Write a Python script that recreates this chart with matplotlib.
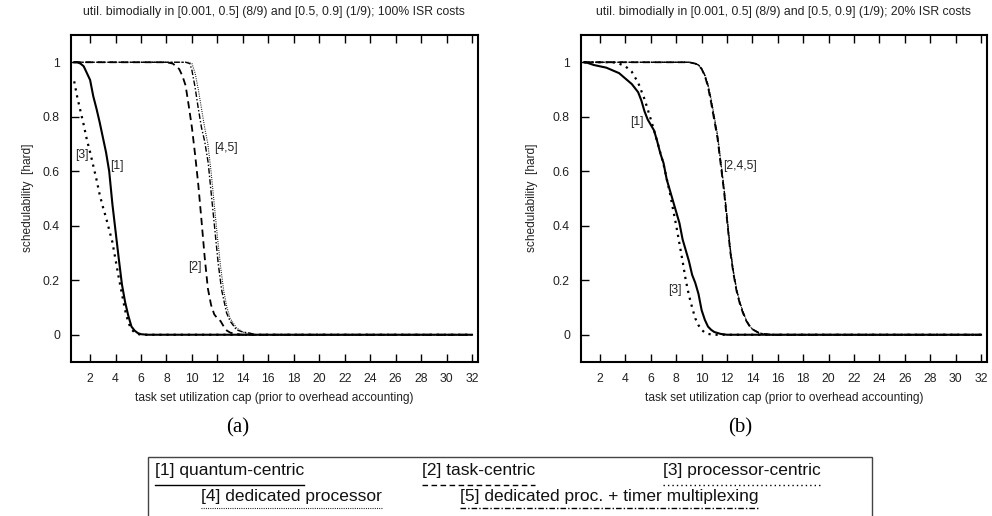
import matplotlib
matplotlib.use("Agg")
import matplotlib.pyplot as plt
from matplotlib.patches import Rectangle
from matplotlib.lines import Line2D

plt.rcParams['font.family'] = ['Liberation Sans', 'DejaVu Sans']

W, H = 992, 516

# ---- data: (a) 100% ISR costs ----
a1_x = [0.75, 1.0, 1.25, 1.5, 1.75, 2.0, 2.25, 2.5, 2.75, 3.0, 3.25, 3.5, 3.75,
        4.0, 4.25, 4.5, 4.75, 5.0, 5.25, 5.5, 5.75, 6.0, 6.5, 32]
a1_y = [1.0, 1.0, 0.995, 0.985, 0.96, 0.935, 0.875, 0.83, 0.78, 0.725, 0.67,
        0.60, 0.48, 0.38, 0.28, 0.185, 0.12, 0.07, 0.03, 0.015, 0.006, 0.002, 0, 0]

a2_x = [0.75, 8.0, 8.5, 9.0, 9.25, 9.5, 9.75, 10.0, 10.25, 10.5, 10.75, 11.0,
        11.25, 11.5, 11.75, 12.0, 12.25, 12.5, 12.75, 13.0, 13.5, 14.0, 32]
a2_y = [1.0, 1.0, 0.995, 0.975, 0.95, 0.915, 0.84, 0.76, 0.66, 0.55, 0.42,
        0.285, 0.17, 0.11, 0.075, 0.06, 0.05, 0.03, 0.015, 0.008, 0.002, 0, 0]

a3_x = [0.75, 1.0, 1.25, 1.5, 1.75, 2.0, 2.25, 2.5, 2.75, 3.0, 3.25, 3.5, 3.75,
        4.0, 4.25, 4.5, 4.75, 5.0, 5.25, 5.5, 5.75, 6.0, 32]
a3_y = [0.93, 0.87, 0.82, 0.77, 0.715, 0.67, 0.62, 0.57, 0.515, 0.47, 0.43,
        0.385, 0.34, 0.275, 0.21, 0.15, 0.09, 0.045, 0.02, 0.008, 0.003, 0, 0]

a4_x = [0.75, 9.7, 10.0, 10.25, 10.5, 10.75, 11.0, 11.25, 11.5, 11.75, 12.0,
        12.25, 12.5, 12.75, 13.0, 13.5, 14.0, 14.5, 15.0, 32]
a4_y = [1.0, 1.0, 0.995, 0.96, 0.9, 0.83, 0.76, 0.7, 0.6, 0.48, 0.36, 0.25,
        0.16, 0.1, 0.06, 0.025, 0.01, 0.004, 0, 0]

a5_x = [0.75, 9.5, 9.84, 10.0, 10.24, 10.5, 10.75, 11.0, 11.28, 11.54, 11.8,
        12.06, 12.33, 12.72, 13.0, 13.5, 14.0, 14.55, 15.0, 32]
a5_y = [1.0, 1.0, 0.995, 0.97, 0.91, 0.83, 0.76, 0.71, 0.63, 0.507, 0.385,
        0.263, 0.165, 0.08, 0.05, 0.018, 0.01, 0.006, 0, 0]

# ---- (b) 20% ISR costs ----
b1_x = [0.75, 1.0, 1.5, 2.0, 2.5, 3.0, 3.5, 4.0, 4.5, 5.0, 5.25, 5.5, 5.75,
        6.0, 6.25, 6.5, 6.75, 7.0, 7.25, 7.5, 7.75, 8.0, 8.25, 8.5, 8.75, 9.0,
        9.25, 9.5, 9.75, 10.0, 10.25, 10.5, 10.75, 11.0, 11.5, 12.0, 32]
b1_y = [1.0, 0.998, 0.99, 0.985, 0.98, 0.97, 0.96, 0.94, 0.92, 0.89, 0.86,
        0.82, 0.79, 0.77, 0.75, 0.71, 0.665, 0.63, 0.57, 0.53, 0.49, 0.45,
        0.41, 0.35, 0.31, 0.27, 0.22, 0.19, 0.15, 0.09, 0.055, 0.03, 0.018,
        0.01, 0.003, 0, 0]

b3_x = [0.75, 3.0, 3.5, 4.0, 4.5, 5.0, 5.5, 6.0, 6.5, 7.0, 7.5, 8.0, 8.5,
        8.75, 9.0, 9.25, 9.5, 9.75, 10.0, 10.25, 10.5, 11.0, 32]
b3_y = [1.0, 1.0, 0.995, 0.985, 0.965, 0.925, 0.865, 0.79, 0.71, 0.625, 0.52,
        0.40, 0.27, 0.2, 0.145, 0.1, 0.06, 0.035, 0.018, 0.008, 0.003, 0, 0]

b2_x = [0.75, 9.0, 9.5, 9.75, 10.0, 10.25, 10.5, 10.75, 11.0, 11.25, 11.5,
        11.75, 12.0, 12.25, 12.5, 12.75, 13.0, 13.25, 13.5, 13.75, 14.0, 14.5,
        15.0, 15.5, 32]
b2_y = [1.0, 1.0, 0.995, 0.99, 0.975, 0.95, 0.91, 0.85, 0.785, 0.72, 0.625,
        0.53, 0.42, 0.305, 0.225, 0.16, 0.115, 0.08, 0.052, 0.033, 0.02,
        0.007, 0.002, 0, 0]
b4_y = [1.0, 1.0, 0.995, 0.99, 0.978, 0.955, 0.92, 0.865, 0.8, 0.735, 0.64,
        0.545, 0.435, 0.32, 0.235, 0.17, 0.12, 0.085, 0.055, 0.035, 0.02,
        0.007, 0.002, 0, 0]
b5_y = [1.0, 1.0, 0.995, 0.99, 0.976, 0.952, 0.915, 0.86, 0.795, 0.73, 0.635,
        0.54, 0.43, 0.315, 0.23, 0.165, 0.12, 0.085, 0.055, 0.035, 0.02,
        0.007, 0.002, 0, 0]

xticks = list(range(2, 33, 2))
yticks = [0, 0.2, 0.4, 0.6, 0.8, 1]
ytick_labels = ['0', '0.2', '0.4', '0.6', '0.8', '1']

titles = ["util. bimodially in [0.001, 0.5] (8/9) and [0.5, 0.9] (1/9); 100% ISR costs",
          "util. bimodially in [0.001, 0.5] (8/9) and [0.5, 0.9] (1/9); 20% ISR costs"]
legend_names = ["[1] quantum-centric", "[2] task-centric", "[3] processor-centric",
                "[4] dedicated processor", "[5] dedicated proc. + timer multiplexing"]

styles = {
    1: dict(ls='-', lw=1.5),
    2: dict(ls=(0, (4, 2.5)), lw=1.3),
    3: dict(ls=(0, (1, 2.2)), lw=1.6),
    4: dict(ls=(0, (0.8, 1.2)), lw=0.8),
    5: dict(ls=(0, (4, 1.5, 1, 1.5)), lw=1.0),
}

fig = plt.figure(figsize=(W / 100, H / 100), dpi=100)
ax1 = fig.add_axes([71 / W, (H - 362) / H, 407 / W, 327 / H])
ax2 = fig.add_axes([581 / W, (H - 362) / H, 406 / W, 327 / H])

ax1.plot(a3_x, a3_y, color='black', **styles[3])
ax1.plot(a4_x, a4_y, color='black', **styles[4])
ax1.plot(a5_x, a5_y, color='black', **styles[5])
ax1.plot(a2_x, a2_y, color='black', **styles[2])
ax1.plot(a1_x, a1_y, color='black', **styles[1])

ax2.plot(b3_x, b3_y, color='black', **styles[3])
ax2.plot(b2_x, b4_y, color='black', **styles[4])
ax2.plot(b2_x, b5_y, color='black', **styles[5])
ax2.plot(b2_x, b2_y, color='black', **styles[2])
ax2.plot(b1_x, b1_y, color='black', **styles[1])

for ax, title, cx in [(ax1, titles[0], 274), (ax2, titles[1], 784)]:
    ax.set_xlim(0.5, 32.47)
    ax.set_ylim(-0.1, 1.1)
    ax.set_xticks(xticks)
    ax.set_yticks(yticks)
    ax.set_yticklabels(ytick_labels)
    ax.tick_params(axis='x', direction='in', length=6, width=1, top=True,
                   labelsize=8.8, pad=8, labelcolor='#222')
    ax.tick_params(axis='y', direction='in', length=6, width=1, right=False,
                   labelsize=8.8, pad=8, labelcolor='#222')
    for s in ax.spines.values():
        s.set_linewidth(1.5)
    ax.set_xlabel("task set utilization cap (prior to overhead accounting)",
                  fontsize=8.6, color='#222', labelpad=5)
    fig.text(cx / W, 1 - 12 / H, title, fontsize=8.8, ha='center', va='center', color='#222')

fig.text(28 / W, 1 - 198 / H, "schedulability  [hard]", rotation=90, fontsize=8.6,
         ha='center', va='center', color='#222')
fig.text(532 / W, 1 - 198 / H, "schedulability  [hard]", rotation=90, fontsize=8.6,
         ha='center', va='center', color='#222')

ax1.text(1.35, 0.66, "[3]", fontsize=8.8, ha='center', va='center', color='#222')
ax1.text(4.1, 0.62, "[1]", fontsize=8.8, ha='center', va='center', color='#222')
ax1.text(12.7, 0.684, "[4,5]", fontsize=8.8, ha='center', va='center', color='#222')
ax1.text(10.2, 0.25, "[2]", fontsize=8.8, ha='center', va='center', color='#222')
ax2.text(4.9, 0.78, "[1]", fontsize=8.8, ha='center', va='center', color='#222')
ax2.text(7.9, 0.165, "[3]", fontsize=8.8, ha='center', va='center', color='#222')
ax2.text(13.05, 0.62, "[2,4,5]", fontsize=8.8, ha='center', va='center', color='#222')

fig.text(238 / W, 1 - 428 / H, "(a)", fontsize=15, family='Liberation Serif',
         ha='center', va='center')
fig.text(740 / W, 1 - 428 / H, "(b)", fontsize=15, family='Liberation Serif',
         ha='center', va='center')

# legend box below the panels
fig.patches.append(Rectangle((148 / W, -0.1), (872 - 148) / W, 0.1 + (H - 457) / H,
                             transform=fig.transFigure, fill=False,
                             edgecolor='#444', lw=1.0))

leg_pos = [(155, 470), (422, 470), (663, 470), (201, 497), (460, 497)]
leg_under = [485, 485, 485, 508, 508]
leg_texts = []
for name, (lx, ly) in zip(legend_names, leg_pos):
    leg_texts.append(fig.text(lx / W, 1 - ly / H, name, fontsize=12.5, ha='left',
                              va='center', color='#111'))

fig.canvas.draw()
renderer = fig.canvas.get_renderer()
for i, (t, uy) in enumerate(zip(leg_texts, leg_under)):
    bb = t.get_window_extent(renderer)
    st = styles[i + 1]
    fig.lines.append(Line2D([bb.x0 / W, bb.x1 / W], [1 - uy / H, 1 - uy / H],
                            transform=fig.transFigure, color='black',
                            ls=st['ls'], lw=min(st['lw'], 1.0)))

plt.savefig("out.png", dpi=100)
